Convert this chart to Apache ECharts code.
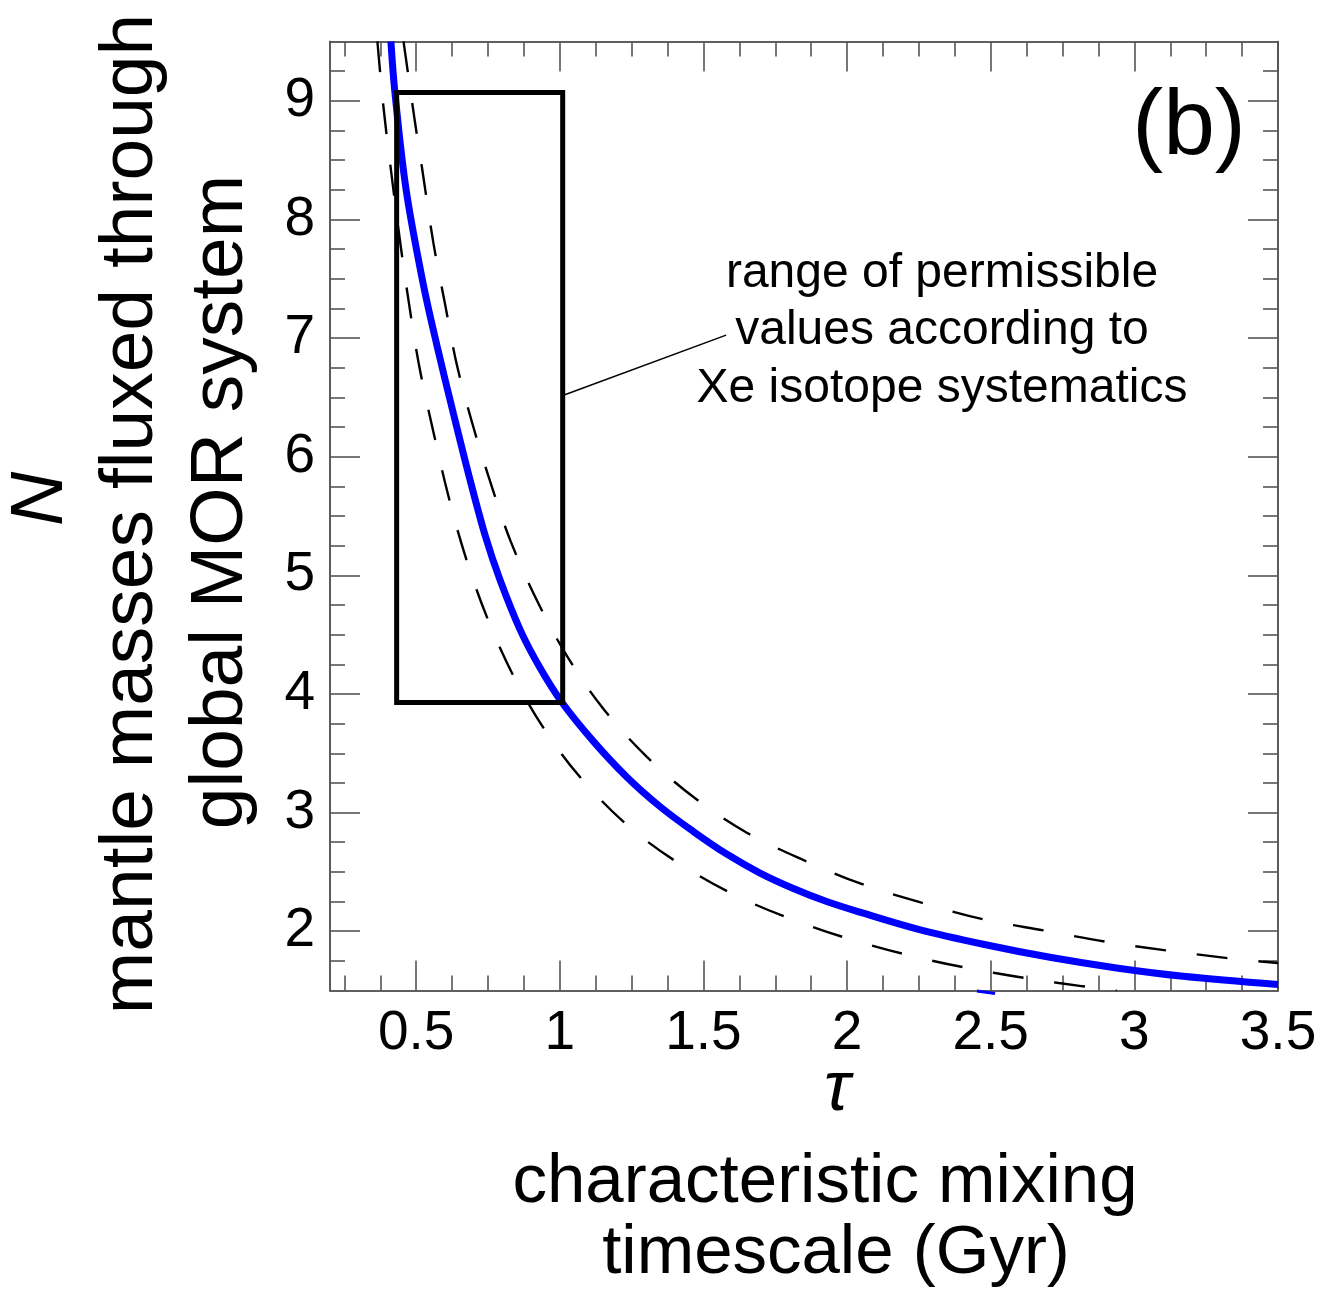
<!DOCTYPE html>
<html><head><meta charset="utf-8">
<script src="https://cdn.jsdelivr.net/npm/echarts@6/dist/echarts.min.js"></script>
<style>html,body{margin:0;padding:0;background:#fff}#chart{width:1325px;height:1295px}</style>
</head><body><div id="chart"></div>
<script>
// ---- data ----
const tauBlue = [0.412, 0.426, 0.465, 0.525, 0.573, 0.630, 0.688, 0.742, 0.792, 0.862, 0.931, 1.007, 1.117, 1.233, 1.349, 1.465, 1.581, 1.697, 1.813, 1.929, 2.045, 2.242, 2.474, 2.706, 2.938, 3.17, 3.5];
const nBlue   = [9.50, 9.07, 8.25, 7.45, 6.93, 6.36, 5.80, 5.32, 4.96, 4.54, 4.22, 3.93, 3.60, 3.30, 3.05, 2.84, 2.65, 2.49, 2.36, 2.25, 2.16, 2.02, 1.89, 1.78, 1.69, 1.62, 1.55];

const tauUpper = [0.456, 0.494, 0.520, 0.560, 0.601, 0.642, 0.699, 0.763, 0.830, 0.926, 1.030, 1.150, 1.303, 1.471, 1.651, 1.848, 2.048, 2.259, 2.474, 2.688, 2.903, 3.118, 3.332, 3.5];
const nUpper   = [9.50, 8.85, 8.44, 7.80, 7.28, 6.77, 6.25, 5.75, 5.28, 4.76, 4.30, 3.88, 3.47, 3.12, 2.83, 2.60, 2.40, 2.24, 2.10, 2.005, 1.91, 1.836, 1.771, 1.732];

const tauLower = [0.365, 0.386, 0.412, 0.442, 0.470, 0.510, 0.557, 0.610, 0.670, 0.746, 0.841, 0.955, 1.088, 1.256, 1.442, 1.639, 1.853, 2.056, 2.289, 2.515, 2.737, 2.938];
const nLower   = [9.50, 8.95, 8.42, 7.85, 7.37, 6.77, 6.24, 5.69, 5.17, 4.65, 4.14, 3.67, 3.25, 2.85, 2.53, 2.27, 2.06, 1.90, 1.755, 1.648, 1.563, 1.50];

// box of permissible values (Xe isotope systematics)
const boxTau = [0.432, 1.010, 1.010, 0.432, 0.432];
const boxN   = [9.071, 9.071, 3.927, 3.927, 9.071];

// leader line from box to annotation
const leaderTau = [1.015, 1.579];
const leaderN   = [6.52, 7.025];

// small stray blue stroke just below the x axis
const strayTau = [2.452, 2.515];
const strayN   = [1.496, 1.474];

// axis ticks / labels
const xMajor = [0.5, 1, 1.5, 2, 2.5, 3, 3.5];
const yMajor = [2, 3, 4, 5, 6, 7, 8, 9];
const xMinor = [];
for (let v = 0.25; v < 3.5; v += 0.125) { if (Math.abs(v * 2 - Math.round(v * 2)) > 1e-6) xMinor.push(+v.toFixed(3)); }
const yMinor = [];
for (let v = 1.75; v < 9.5; v += 0.25) { if (Math.abs(v - Math.round(v)) > 1e-6) yMinor.push(+v.toFixed(2)); }

const X_MIN = 0.2, X_MAX = 3.5, Y_MIN = 1.5, Y_MAX = 9.5;

// ---- chart ----
const FONT = "'Liberation Sans', Arial, Helvetica, sans-serif";
const axisColor = '#555';
function pairs(a, b) { return a.map((t, i) => [t, b[i]]); }

function mkAxis(kind, pos, values, len, withLabels) {
  const ax = {
    type: 'value', min: kind === 'x' ? X_MIN : Y_MIN, max: kind === 'x' ? X_MAX : Y_MAX,
    position: pos, offset: 0,
    axisLine: { show: true, onZero: false, lineStyle: { color: axisColor, width: 1.6 } },
    axisTick: { show: true, inside: true, length: len, customValues: values, lineStyle: { color: axisColor, width: 1.6 } },
    axisLabel: { show: false },
    splitLine: { show: false }, minorTick: { show: false }, minorSplitLine: { show: false }
  };
  if (withLabels) {
    ax.axisLabel = { show: true, customValues: values, color: '#000', fontSize: 55, fontFamily: FONT, margin: kind === 'x' ? 16 : 15,
      formatter: v => String(v) };
  }
  return ax;
}

const chart = echarts.init(document.getElementById('chart'), null, { renderer: 'canvas' });
chart.setOption({
  animation: false,
  backgroundColor: '#fff',
  grid: { left: 330, top: 41.5, width: 948, height: 949, containLabel: false },
  xAxis: [
    mkAxis('x', 'bottom', xMajor, 30, true),
    mkAxis('x', 'bottom', xMinor, 15, false),
    mkAxis('x', 'top', xMajor, 30, false),
    mkAxis('x', 'top', xMinor, 15, false)
  ],
  yAxis: [
    mkAxis('y', 'left', yMajor, 30, true),
    mkAxis('y', 'left', yMinor, 15, false),
    mkAxis('y', 'right', yMajor, 30, false),
    mkAxis('y', 'right', yMinor, 15, false)
  ],
  series: [
    { type: 'line', name: 'model', data: pairs(tauBlue, nBlue), showSymbol: false, smooth: 0.35,
      lineStyle: { color: '#0000ff', width: 7 }, z: 3 },
    { type: 'line', name: 'stray', data: pairs(strayTau, strayN), showSymbol: false, clip: false,
      lineStyle: { color: '#0000ff', width: 3 }, z: 3 },
    { type: 'line', name: 'box', data: pairs(boxTau, boxN), showSymbol: false,
      lineStyle: { color: '#000', width: 5, join: 'miter', cap: 'square' }, z: 4 },
    { type: 'line', name: 'upper', data: pairs(tauUpper, nUpper), showSymbol: false, smooth: 0.35,
      lineStyle: { color: '#000', width: 2.4, type: [31, 31] }, z: 5 },
    { type: 'line', name: 'lower', data: pairs(tauLower, nLower), showSymbol: false, smooth: 0.35,
      lineStyle: { color: '#000', width: 2.4, type: [31, 31] }, z: 5 },
    { type: 'line', name: 'leader', data: pairs(leaderTau, leaderN), showSymbol: false,
      lineStyle: { color: '#000', width: 1.5 }, z: 5 }
  ],
  graphic: [
    { type: 'text', x: 1189, y: 128, style: { text: '(b)', font: "93px " + FONT, fill: '#000', textAlign: 'center', textVerticalAlign: 'middle', align: 'center', verticalAlign: 'middle' } },
    { type: 'text', x: 942, y: 331, style: { text: 'range of permissible\nvalues according to\nXe isotope systematics', font: "48px " + FONT, lineHeight: 57.5, fill: '#000', textAlign: 'center', textVerticalAlign: 'middle', align: 'center', verticalAlign: 'middle' } },
    { type: 'text', x: 837, y: 1091, style: { text: 'τ', font: "italic 70px " + FONT, fill: '#000', textAlign: 'center', textVerticalAlign: 'middle', align: 'center', verticalAlign: 'middle' } },
    { type: 'text', x: 825, y: 1183, style: { text: 'characteristic mixing', font: "69px " + FONT, fill: '#000', textAlign: 'center', textVerticalAlign: 'middle', align: 'center', verticalAlign: 'middle' } },
    { type: 'text', x: 836, y: 1254, style: { text: 'timescale (Gyr)', font: "69px " + FONT, fill: '#000', textAlign: 'center', textVerticalAlign: 'middle', align: 'center', verticalAlign: 'middle' } },
    { type: 'text', x: 41, y: 499, rotation: Math.PI / 2, style: { text: 'N', font: "italic 75px " + FONT, fill: '#000', textAlign: 'center', textVerticalAlign: 'middle', align: 'center', verticalAlign: 'middle' } },
    { type: 'text', x: 131, y: 514, rotation: Math.PI / 2, style: { text: 'mantle masses fluxed through', font: "75px " + FONT, fill: '#000', textAlign: 'center', textVerticalAlign: 'middle', align: 'center', verticalAlign: 'middle' } },
    { type: 'text', x: 221, y: 502, rotation: Math.PI / 2, style: { text: 'global MOR system', font: "75px " + FONT, fill: '#000', textAlign: 'center', textVerticalAlign: 'middle', align: 'center', verticalAlign: 'middle' } }
  ]
});
</script>
</body></html>
